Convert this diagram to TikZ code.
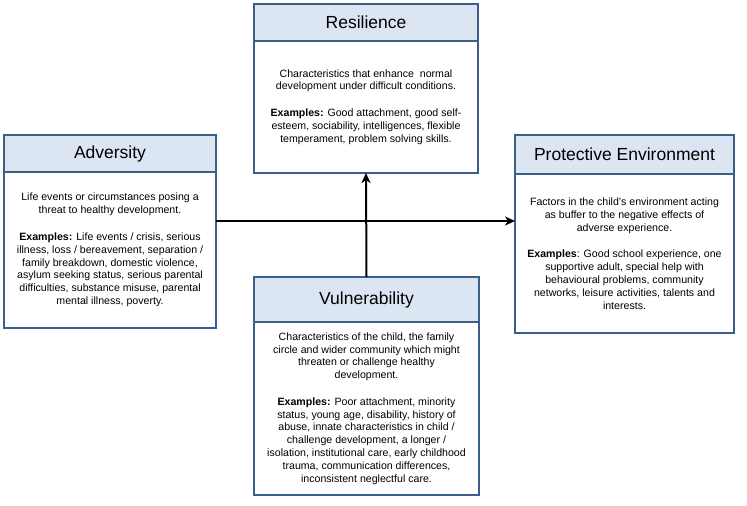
\documentclass[tikz,border=0pt]{standalone}
\usepackage{fontspec}
\setmainfont{Liberation Sans}
\usepackage{tikz}
\usetikzlibrary{positioning, arrows.meta}
\definecolor{boxline}{HTML}{3A5F8B}
\definecolor{boxhead}{HTML}{DCE6F2}
\tikzset{x=1pt, y=1pt,
    head/.style={draw=boxline, line width=2.2pt, fill=boxhead, inner sep=0pt, outer sep=0pt,
        anchor=north west, font=\fontsize{17.5}{20}\selectfont},
    body/.style={draw=boxline, line width=2.2pt, fill=white, inner sep=0pt, outer sep=0pt,
        align=center, font=\fontsize{10.6}{12.8}\selectfont},
    arrow/.style={-{Stealth[length=10pt, width=9pt, inset=3pt]}, line width=2pt, black}}

\begin{document}
\begin{tikzpicture}
        \useasboundingbox (0,0) rectangle (747,-506);

        % Resilience (top)
        \node[head, minimum width=224, minimum height=37] (res-h) at (254,-4) {Resilience};
        \node[body, minimum width=224, minimum height=132, below=0pt of res-h] (res)
            {Characteristics that enhance\ \ normal\\ development under difficult conditions.\\[13.9pt]
             \textbf{Examples:} Good attachment, good self-\\ esteem, sociability, intelligences, flexible\\
             temperament, problem solving skills.};

        % Adversity (left)
        \node[head, minimum width=212, minimum height=37] (adv-h) at (4,-135) {Adversity};
        \node[body, minimum width=212, minimum height=156, below=0pt of adv-h] (adv)
            {Life events or circumstances posing a\\ threat to healthy development.\\[13.9pt]
             \textbf{Examples:} Life events / crisis, serious\\ illness, loss / bereavement, separation /\\
             family breakdown, domestic violence,\\ asylum seeking status, serious parental\\
             difficulties, substance misuse, parental\\ mental illness, poverty.};

        % Protective Environment (right)
        \node[head, minimum width=219, minimum height=39] (prot-h) at (515,-135) {Protective Environment};
        \node[body, minimum width=219, minimum height=159, below=0pt of prot-h] (prot)
            {Factors in the child's environment acting\\ as buffer to the negative effects of\\
             adverse experience.\\[13.9pt]
             \textbf{Examples}: Good school experience, one\\ supportive adult, special help with\\
             behavioural problems, community\\ networks, leisure activities, talents and\\ interests.};

        % Vulnerability (bottom)
        \node[head, minimum width=225, minimum height=45] (vul-h) at (254,-277) {Vulnerability};
        \node[body, minimum width=225, minimum height=173, below=0pt of vul-h] (vul)
            {Characteristics of the child, the family\\ circle and wider community which might\\
             threaten or challenge healthy\\ development.\\[13.9pt]
             \textbf{Examples:} Poor attachment, minority\\ status, young age, disability, history of\\
             abuse, innate characteristics in child /\\ challenge development, a longer /\\
             isolation, institutional care, early childhood\\ trauma, communication differences,\\
             inconsistent neglectful care.};

        % Arrows
        \coordinate (cross) at (366,-221);
        \draw[arrow] (adv.east |- cross) -- (prot.west |- cross);
        \draw[arrow] (vul-h.north) -- (res.south);
    \end{tikzpicture}
\end{document}
